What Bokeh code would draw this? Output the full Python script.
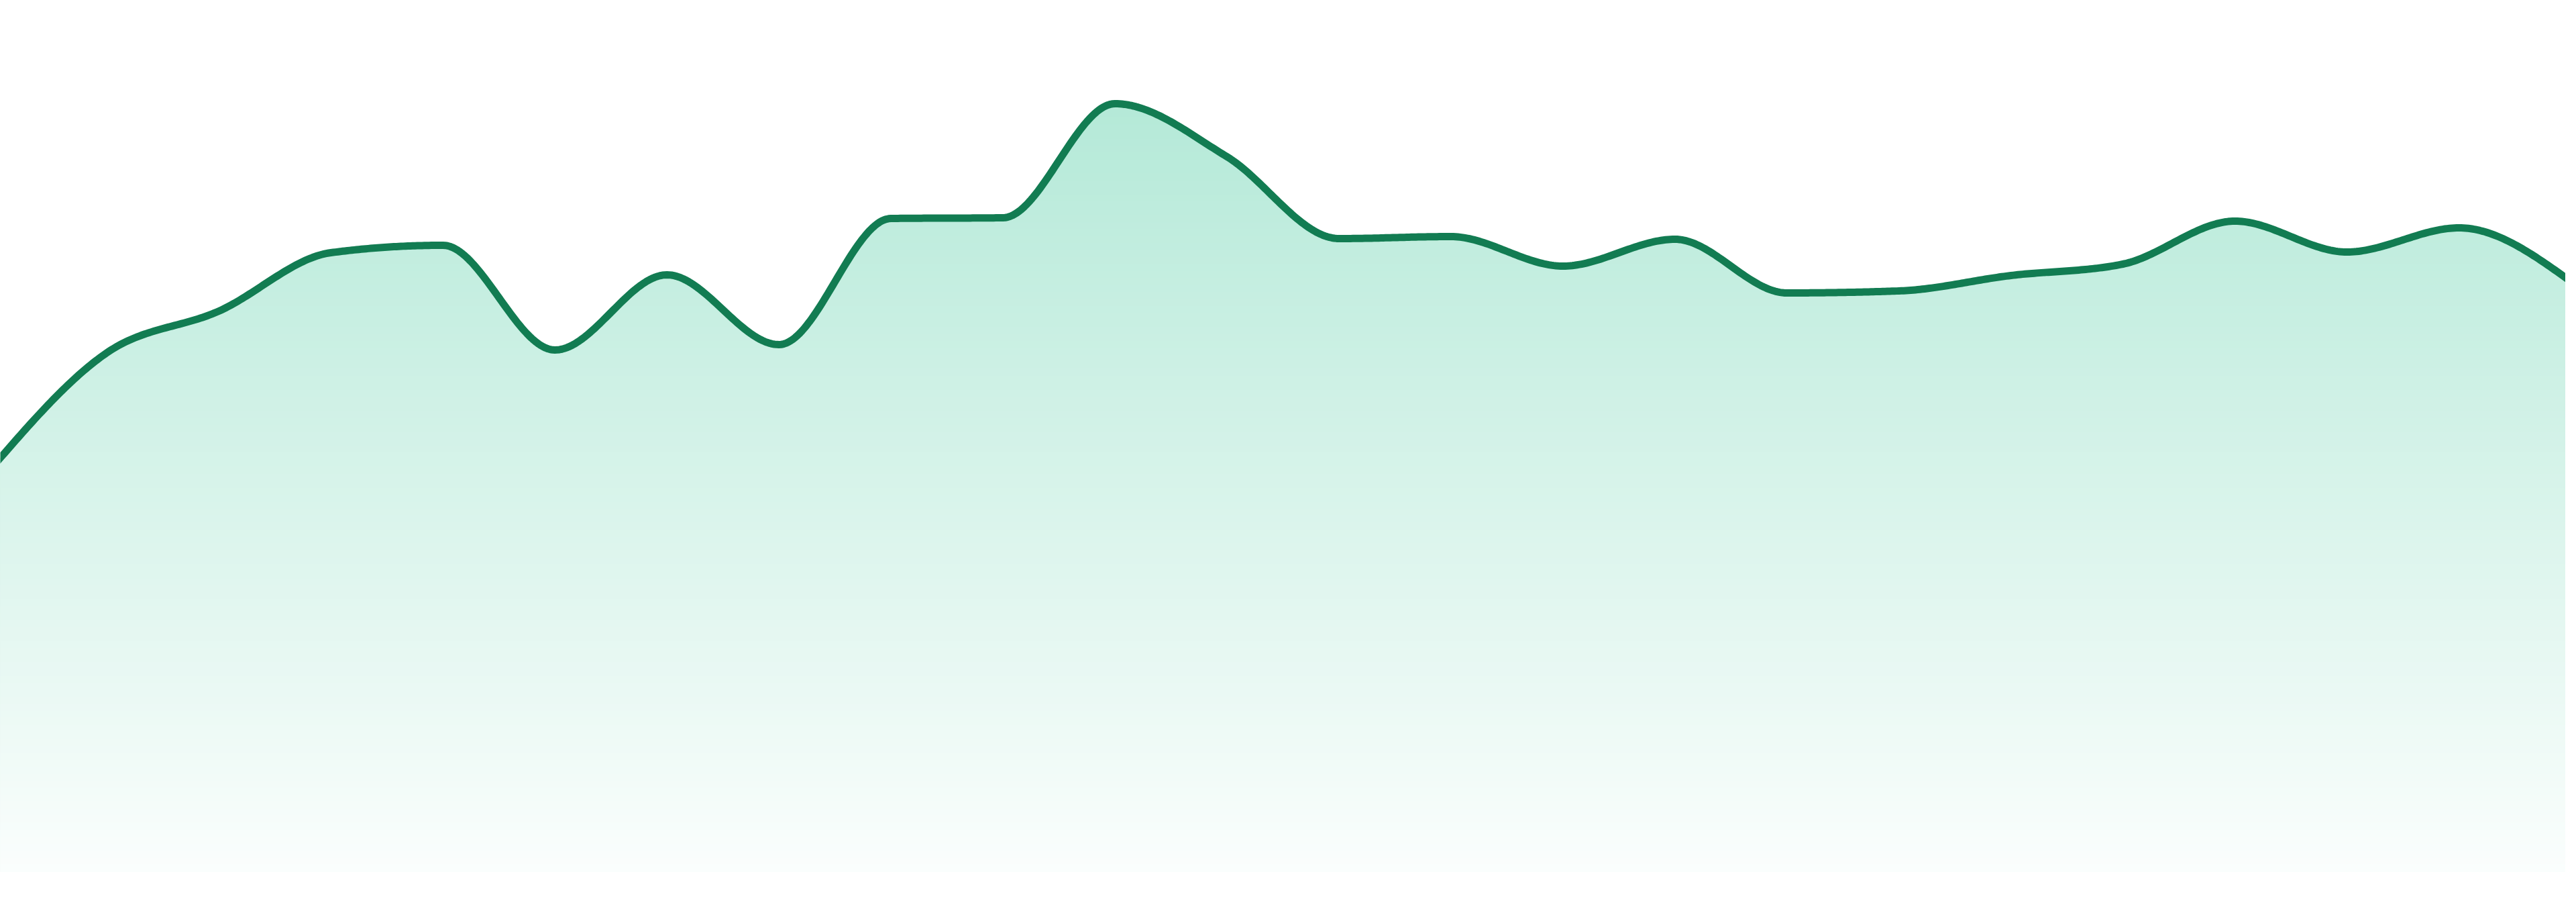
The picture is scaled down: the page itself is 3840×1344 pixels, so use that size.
import numpy as np
from bokeh.plotting import figure
from bokeh.models import Range1d
from bokeh.embed import file_html
from bokeh.resources import INLINE

# ---- data ----
points = list(range(24))
values = [60.7, 77.3, 83.5, 92.2, 93.3, 77.7, 88.9, 78.5, 97.3, 97.4,
          114.4, 106.5, 94.3, 94.6, 90.2, 94.2, 86.2, 86.5, 88.8, 90.5,
          96.9, 92.3, 95.9, 87.9]

LINE_COLOR = "#127c52"
BASE_RGB = (16, 185, 129)

FIG_W = 3824
FIG_H = 1320


def monotone_curve(xs, ys, n=48):
    xs = np.asarray(xs, float)
    ys = np.asarray(ys, float)
    m = len(xs)
    h = np.diff(xs)
    s = np.diff(ys) / h
    t = np.zeros(m)
    sign = lambda v: -1.0 if v < 0 else 1.0
    for i in range(1, m - 1):
        h0, h1 = h[i - 1], h[i]
        s0, s1 = s[i - 1], s[i]
        pp = (s0 * h1 + s1 * h0) / (h0 + h1)
        t[i] = (sign(s0) + sign(s1)) * min(abs(s0), abs(s1), 0.5 * abs(pp))
    t[0] = (3 * s[0] - t[1]) / 2
    t[-1] = (3 * s[-1] - t[-2]) / 2
    ox, oy = [], []
    u = np.linspace(0, 1, n, endpoint=False)
    for i in range(m - 1):
        x0, x1, y0, y1 = xs[i], xs[i + 1], ys[i], ys[i + 1]
        dx = (x1 - x0) / 3
        cx0, cy0 = x0 + dx, y0 + dx * t[i]
        cx1, cy1 = x1 - dx, y1 - dx * t[i + 1]
        a = (1 - u) ** 3
        b = 3 * (1 - u) ** 2 * u
        c = 3 * (1 - u) * u ** 2
        d = u ** 3
        ox.append(a * x0 + b * cx0 + c * cx1 + d * x1)
        oy.append(a * y0 + b * cy0 + c * cy1 + d * y1)
    ox.append(np.array([xs[-1]]))
    oy.append(np.array([ys[-1]]))
    return np.concatenate(ox), np.concatenate(oy)


cx, cy = monotone_curve(points, values)

# one x step is 3840/23 px in the reference; one value unit is 10 px
step_px = 3840 / 23.0
x_start = 8 / step_px
x_end = x_start + FIG_W / step_px
y_top = (1306 - 8) / 10.0
y_bottom = y_top - FIG_H / 10.0

p = figure(width=FIG_W, height=FIG_H, output_backend="svg", toolbar_location=None,
           x_range=Range1d(x_start, x_end), y_range=Range1d(y_bottom, y_top),
           x_axis_location=None, y_axis_location=None, title=None,
           min_border_left=0, min_border_right=0, min_border_top=0, min_border_bottom=0)
p.grid.visible = False
p.outline_line_color = None
p.background_fill_color = "white"
p.border_fill_color = "white"


def band_color(v):
    a = 0.0183 + 0.00257 * v
    a = max(0.0, min(1.0, a))
    r, g, b = [int(round(255 + a * (c - 255))) for c in BASE_RGB]
    return "#%02x%02x%02x" % (r, g, b)


vmax = float(np.max(cy))
N = 110
levels = np.linspace(0, vmax, N + 1)
for k in range(N, 0, -1):
    top = levels[k]
    mid = 0.5 * (levels[k - 1] + levels[k])
    y2 = cy if k == N else np.minimum(cy, top)
    p.varea(x=cx, y1=np.zeros_like(cx), y2=y2, fill_color=band_color(mid), fill_alpha=1.0)

p.line(cx, cy, line_color=LINE_COLOR, line_width=11, line_join="round", line_cap="round")

open("out.html", "w").write(file_html(p, INLINE))
